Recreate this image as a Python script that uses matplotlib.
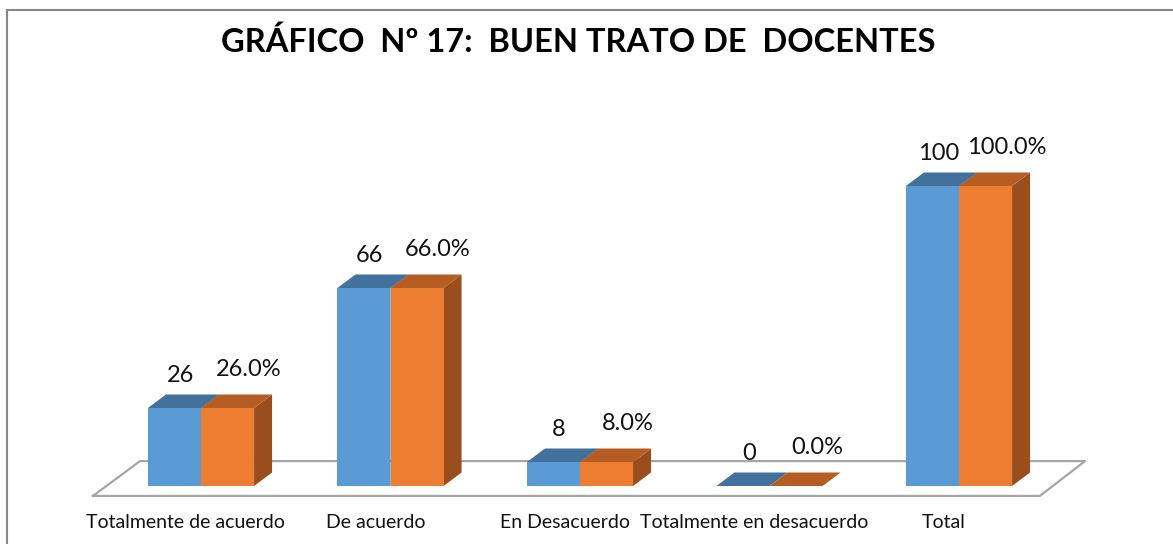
import matplotlib
matplotlib.use("Agg")
import matplotlib.pyplot as plt
from matplotlib.lines import Line2D

categories = ["Totalmente de acuerdo", "De acuerdo", "En Desacuerdo",
              "Totalmente en desacuerdo", "Total"]
counts = [26, 66, 8, 0, 100]
percents = [26.0, 66.0, 8.0, 0.0, 100.0]
title = "GRÁFICO  Nº 17:  BUEN TRATO DE  DOCENTES"

plt.rcParams['font.family'] = ['Lato', 'DejaVu Sans']

front = {"blue": "#5B9BD5", "orange": "#ED7D31"}
top = {"blue": "#41719C", "orange": "#B55D22"}
side = {"blue": "#3A6690", "orange": "#9A4E1E"}

W, H = 1173, 544
fig = plt.figure(figsize=(W / 100, H / 100), dpi=100)
ax = fig.add_axes([0, 0, 1, 1])
# 1 x unit = one category slot (189.5 px), 1 y unit = 3 px, y=0 at pixel row 486
ax.set_xlim(-201 / 189.5, (W - 201) / 189.5)
ax.set_ylim((486 - H) / 3, 486 / 3)
ax.axis("off")

bw = 0.28      # width of each bar
ddx = 0.095    # depth offset (x)
ddy = 4.5      # depth offset (y)

# floor
fx = [-0.570, 4.427, 4.665, -0.322, -0.570]
fy = [-3.3, -3.3, 8.3, 8.3, -3.3]
ax.fill(fx, fy, color="white", zorder=1)
ax.plot(fx, fy, color="#A6A6A6", lw=1.6, zorder=1.5)


def bar3d(x0, h, key):
    if h > 0:
        ax.bar(x0, h, width=bw, align="edge", color=front[key], zorder=3)
        ax.fill([x0 + bw, x0 + bw + ddx, x0 + bw + ddx, x0 + bw],
                [0, ddy, h + ddy, h], color=side[key], zorder=2.5, lw=0)
    ax.fill([x0, x0 + bw, x0 + bw + ddx, x0 + ddx],
            [h, h, h + ddy, h + ddy], color=top[key], zorder=3, lw=0)


for i, (c, p) in enumerate(zip(counts, percents)):
    bar3d(i - bw, c, "blue")
    bar3d(i, p, "orange")
    ax.text(i - bw / 2 + 0.03, c + 11, f"{c}", ha="center", va="center",
            fontsize=17, color="#111111")
    ax.text(i + bw / 2 + 0.11, p + 13, f"{p:.1f}%", ha="center", va="center",
            fontsize=17, color="#111111")
    ax.text(i - 0.08, -12, categories[i], ha="center", va="center",
            fontsize=14, color="#111111")

fig.text(578 / W, 1 - 42 / H, title, ha="center", va="center",
         fontsize=23.5, fontweight="bold", color="black")

# chart border (left and top edges visible)
fig.add_artist(Line2D([7 / W, 7 / W], [0, 1 - 10 / H], transform=fig.transFigure,
                      color="#878787", lw=1.5))
fig.add_artist(Line2D([7 / W, 1], [1 - 10 / H, 1 - 10 / H], transform=fig.transFigure,
                      color="#878787", lw=1.5))

fig.savefig("out.png", dpi=100, facecolor="white")
